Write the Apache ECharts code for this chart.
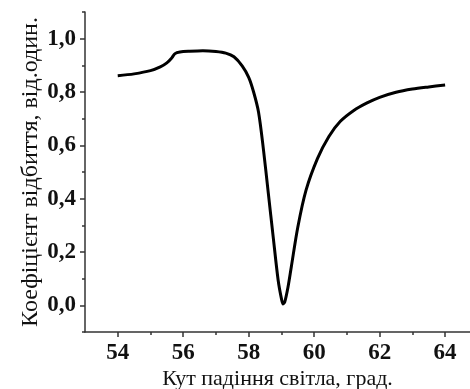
<!DOCTYPE html>
<html>
<head>
<meta charset="utf-8">
<script src="https://cdn.jsdelivr.net/npm/echarts@6/dist/echarts.min.js"></script>
<style>
  html, body { margin: 0; padding: 0; background: #fff; }
  #chart { width: 470px; height: 389px; }
</style>
</head>
<body>
<div id="chart"></div>
<script>
// incidence angle, degrees
const angle = [54.0, 54.5, 55.0, 55.3, 55.5, 55.65, 55.75, 55.9, 56.2, 56.6, 57.0, 57.3, 57.55, 57.8,
  58.0, 58.15, 58.3, 58.45, 58.6, 58.75, 58.9, 59.0, 59.05, 59.1, 59.2, 59.3, 59.5, 59.75,
  60.1, 60.45, 60.8, 61.2, 61.6, 62.0, 62.5, 63.0, 63.5, 64.0]
// reflection coefficient
const refl = [0.861, 0.868, 0.880, 0.894, 0.909, 0.928, 0.944, 0.950, 0.953, 0.955, 0.952, 0.946, 0.932, 0.898,
  0.855, 0.800, 0.725, 0.585, 0.420, 0.255, 0.094, 0.025, 0.005, 0.012, 0.068, 0.143, 0.293, 0.431,
  0.550, 0.633, 0.690, 0.730, 0.758, 0.780, 0.799, 0.811, 0.819, 0.826]

const xMajor = [54, 56, 58, 60, 62, 64]
const xMinor = [55, 57, 59, 61, 63]
const yMajor = [0, 0.2, 0.4, 0.6, 0.8, 1.0]
const yMinor = [-0.1, 0.1, 0.3, 0.5, 0.7, 0.9, 1.1]

const xTitle = 'Кут падіння світла, град.'
const yTitle = 'Коефіцієнт відбиття, від.один.'

const serif = '"Liberation Serif", "DejaVu Serif", serif'
const axisColor = '#333'

const chart = echarts.init(document.getElementById('chart'))

const xBase = { type: 'value', min: 53, max: 64.76, position: 'bottom', splitLine: { show: false } }
const yBase = { type: 'value', min: -0.1, max: 1.1, position: 'left', splitLine: { show: false } }

chart.setOption({
  animation: false,
  grid: { left: 85, top: 12, right: 0, bottom: 57, outerBoundsMode: 'none', containLabel: false },
  xAxis: [
    {
      ...xBase,
      name: xTitle,
      nameLocation: 'middle',
      nameMoveOverlap: false,
      nameGap: 36,
      nameTextStyle: { fontFamily: serif, fontSize: 22, lineHeight: 23, color: '#111' },
      axisLine: { onZero: false, lineStyle: { color: axisColor, width: 1.5 } },
      axisTick: { customValues: xMajor, length: 5, lineStyle: { color: axisColor, width: 1.5 } },
      axisLabel: {
        customValues: xMajor,
        margin: 10,
        fontFamily: serif,
        fontWeight: 'bold',
        fontSize: 23,
        color: '#111',
      },
    },
    {
      ...xBase,
      axisLine: { show: false, onZero: false },
      axisTick: { customValues: xMinor, length: 3, lineStyle: { color: axisColor, width: 1.5 } },
      axisLabel: { show: false },
    },
  ],
  yAxis: [
    {
      ...yBase,
      name: yTitle,
      nameLocation: 'middle',
      nameMoveOverlap: false,
      nameGap: 46,
      nameTextStyle: { fontFamily: serif, fontSize: 24, lineHeight: 16, color: '#111' },
      axisLine: { onZero: false, lineStyle: { color: axisColor, width: 1.5 } },
      axisTick: { customValues: yMajor, length: 5, lineStyle: { color: axisColor, width: 1.5 } },
      axisLabel: {
        customValues: yMajor,
        margin: 9,
        fontFamily: serif,
        fontWeight: 'bold',
        fontSize: 23,
        color: '#111',
        formatter: (v) => v.toFixed(1).replace('.', ','),
      },
    },
    {
      ...yBase,
      axisLine: { show: false, onZero: false },
      axisTick: { customValues: yMinor, length: 3, lineStyle: { color: axisColor, width: 1.5 } },
      axisLabel: { show: false },
    },
  ],
  series: [
    {
      type: 'line',
      xAxisIndex: 0,
      yAxisIndex: 0,
      data: angle.map((a, i) => [a, refl[i]]),
      smooth: 0.3,
      showSymbol: false,
      lineStyle: { color: '#000', width: 3 },
    },
  ],
})
</script>
</body>
</html>
